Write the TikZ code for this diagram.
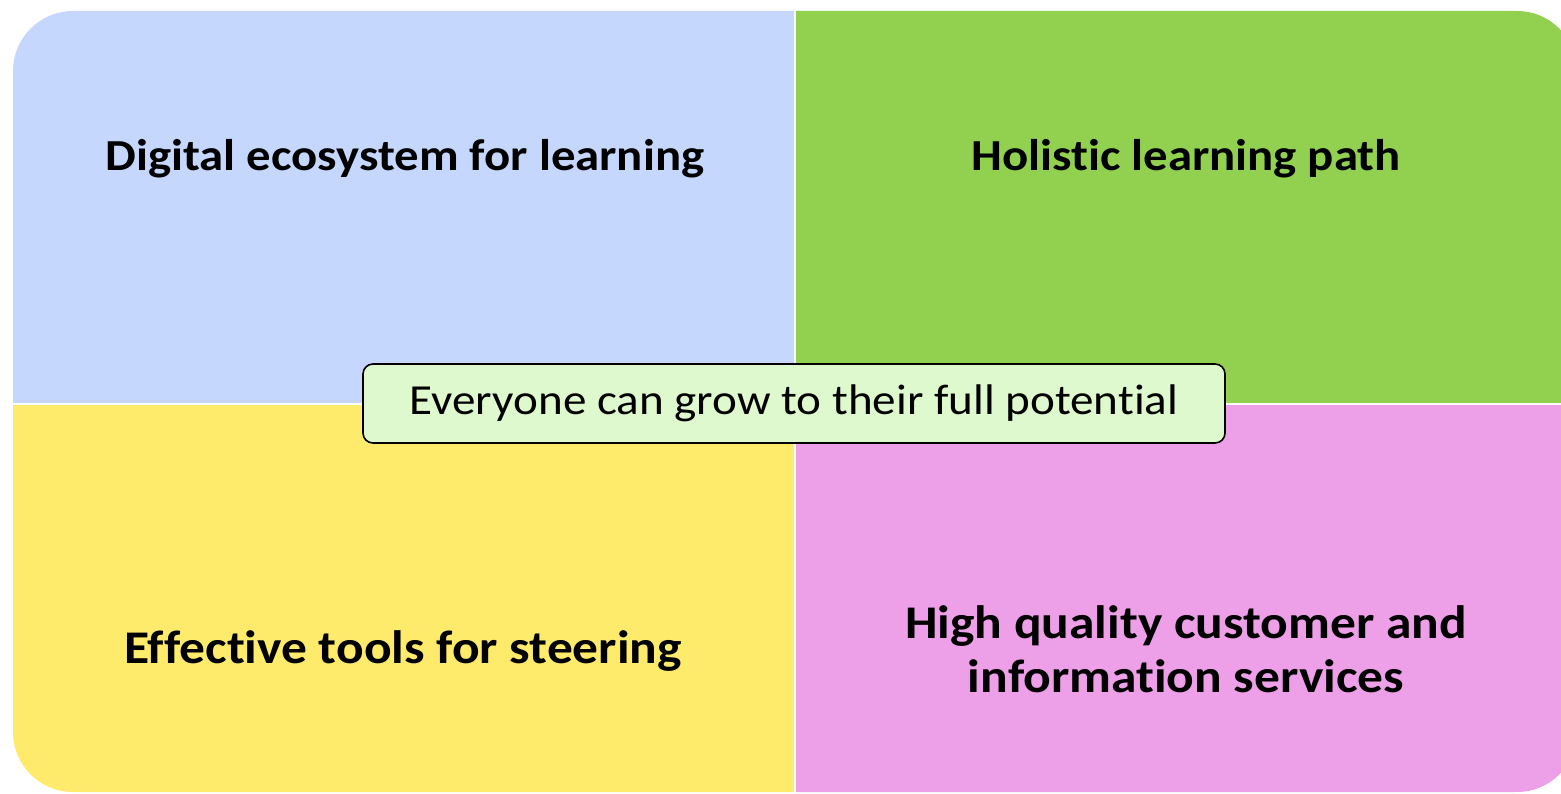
\documentclass[tikz,border=0pt]{standalone}
\usepackage{fontspec}
\setmainfont[FakeStretch=1.1, Ligatures=NoCommon]{Carlito}
\usetikzlibrary{positioning}

\definecolor{quadblue}{HTML}{C6D7FE}
\definecolor{quadgreen}{HTML}{92D050}
\definecolor{quadyellow}{HTML}{FEEB6B}
\definecolor{quadpink}{HTML}{EDA0E7}
\definecolor{corefill}{HTML}{DEF9CD}

\begin{document}
\begin{tikzpicture}[
  x=1bp, y=-1bp,
  title/.style = {font=\fontsize{44.5}{54}\selectfont\bfseries, align=center, anchor=base},
  bigtitle/.style = {title, font=\fontsize{47}{54}\selectfont\bfseries},
  core/.style = {draw, line width=1.6bp, rounded corners=10bp, fill=corefill,
                 minimum width=862bp, minimum height=79bp, inner sep=0pt,
                 font=\fontsize{43}{50}\selectfont},
  gap/.style = {white, line width=2.5bp}
]
  \useasboundingbox (0,0) rectangle (1561,793);

  % four quadrants cut out of one rounded block
  \begin{scope}
    \clip[rounded corners=60bp] (13,11) rectangle (1577,792);
    \fill[quadblue]   (0,0)     rectangle (795,404);
    \fill[quadgreen]  (795,0)   rectangle (1600,404);
    \fill[quadyellow] (0,404)   rectangle (795,800);
    \fill[quadpink]   (795,404) rectangle (1600,800);
  \end{scope}
  \draw[gap] (795,0) -- (795,793);
  \draw[gap] (0,404) -- (1561,404);

  % quadrant titles
  \node[title]    (ecosystem) at (405,170)  {Digital ecosystem for learning};
  \node[title]    (path)      at (1186,170) {Holistic learning path};
  \node[bigtitle] (steering)  at (403,663.5) {Effective tools for steering};
  \node[bigtitle] (services)  at (1186,692) {High quality customer and\\information services};

  % centre statement
  \node[core] (potential) at (794,403.5) {Everyone can grow to their full potential};

\end{tikzpicture}
\end{document}
